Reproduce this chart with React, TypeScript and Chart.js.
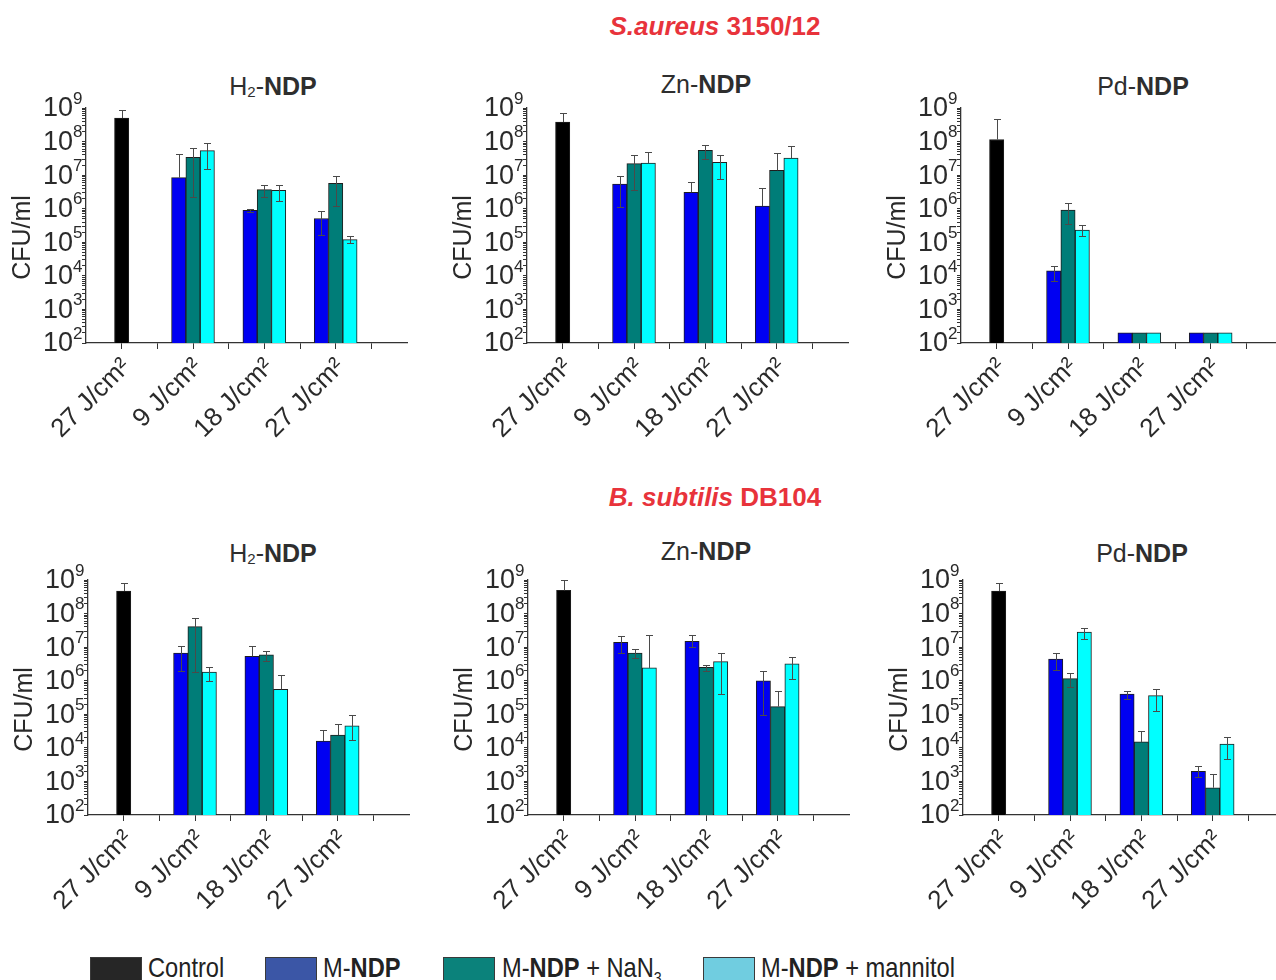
import React, { useEffect, useRef } from 'react';
import { Chart, registerables } from 'chart.js';

Chart.register(...registerables);

const FONT = "'Liberation Sans', Arial, Helvetica, sans-serif";

// ---------- data ----------
const categories = ['27 J/cm²', '9 J/cm²', '18 J/cm²', '27 J/cm²'];
const seriesNames = ['Control', 'M-NDP', 'M-NDP + NaN3', 'M-NDP + mannitol'];
const seriesColors = ['#000000', '#0000f2', '#007d78', '#00ffff'];
const legendColors = ['#262626', '#3b56a6', '#0b827b', '#70cde0'];
const yMin = 1e2;
const yMax = 1e9;

// S. aureus 3150/12 — H2-NDP  (rows: Control, M-NDP, +NaN3, +mannitol)
const SA_H2_VALUES = [
  [5.0e8, null, null, null],
  [null, 8.4e6, 8.9e5, 5.1e5],
  [null, 3.4e7, 3.7e6, 5.7e6],
  [null, 5.4e7, 3.5e6, 1.2e5],
];
const SA_H2_HIGH = [
  [8.5e8, null, null, null],
  [null, 4.4e7, 1.0e6, 8.5e5],
  [null, 6.6e7, 5.2e6, 9.6e6],
  [null, 9.1e7, 5.1e6, 1.5e5],
];
const SA_H2_LOW = [
  [null, null, null, null],
  [null, null, 7.8e5, 1.66e5],
  [null, 2.2e6, 2.3e6, 1.2e6],
  [null, 1.5e7, 1.7e6, 9.6e4],
];

// S. aureus — Zn-NDP
const SA_ZN_VALUES = [
  [3.8e8, null, null, null],
  [null, 5.4e6, 3.1e6, 1.2e6],
  [null, 2.2e7, 5.5e7, 1.4e7],
  [null, 2.3e7, 2.4e7, 3.2e7],
];
const SA_ZN_HIGH = [
  [7.1e8, null, null, null],
  [null, 9.6e6, 6.4e6, 4.1e6],
  [null, 4.1e7, 8.1e7, 4.7e7],
  [null, 4.8e7, 4.0e7, 7.4e7],
];
const SA_ZN_LOW = [
  [null, null, null, null],
  [null, 1.1e6, null, null],
  [null, 3.6e6, 3.1e7, null],
  [null, null, 7.6e6, null],
];

// S. aureus — Pd-NDP
const SA_PD_VALUES = [
  [1.15e8, null, null, null],
  [null, 1.4e4, 2.0e2, 2.0e2],
  [null, 9.1e5, 2.0e2, 2.0e2],
  [null, 2.3e5, 2.0e2, 2.0e2],
];
const SA_PD_HIGH = [
  [4.8e8, null, null, null],
  [null, 2.0e4, null, null],
  [null, 1.45e6, null, null],
  [null, 3.2e5, null, null],
];
const SA_PD_LOW = [
  [null, null, null, null],
  [null, 7.1e3, null, null],
  [null, 3.5e5, null, null],
  [null, 1.5e5, null, null],
];

// B. subtilis DB104 — H2-NDP
const BS_H2_VALUES = [
  [4.7e8, null, null, null],
  [null, 6.7e6, 5.3e6, 1.6e4],
  [null, 4.1e7, 5.9e6, 2.4e4],
  [null, 1.8e6, 5.5e5, 4.5e4],
];
const BS_H2_HIGH = [
  [8.0e8, null, null, null],
  [null, 1.1e7, 1.1e7, 3.5e4],
  [null, 7.6e7, 7.6e6, 5.1e4],
  [null, 2.6e6, 1.45e6, 9.7e4],
];
const BS_H2_LOW = [
  [null, null, null, null],
  [null, 1.95e6, null, null],
  [null, 1.8e6, 4.0e6, null],
  [null, 1.0e6, null, 1.7e4],
];

// B. subtilis — Zn-NDP
const BS_ZN_VALUES = [
  [4.9e8, null, null, null],
  [null, 1.4e7, 1.5e7, 1.0e6],
  [null, 6.6e6, 2.5e6, 1.7e5],
  [null, 2.4e6, 3.7e6, 3.2e6],
];
const BS_ZN_HIGH = [
  [1.0e9, null, null, null],
  [null, 2.1e7, 2.3e7, 1.9e6],
  [null, 8.7e6, 3.0e6, 4.9e5],
  [null, 2.3e7, 6.9e6, 5.2e6],
];
const BS_ZN_LOW = [
  [null, null, null, null],
  [null, 6.9e6, 1.0e7, 9.8e4],
  [null, 4.9e6, 1.9e6, null],
  [null, null, 4.1e5, 1.1e6],
];

// B. subtilis — Pd-NDP
const BS_PD_VALUES = [
  [4.7e8, null, null, null],
  [null, 4.4e6, 4.0e5, 2.0e3],
  [null, 1.15e6, 1.5e4, 6.5e2],
  [null, 2.8e7, 3.6e5, 1.3e4],
];
const BS_PD_HIGH = [
  [8.0e8, null, null, null],
  [null, 6.6e6, 5.1e5, 2.8e3],
  [null, 1.7e6, 3.1e4, 1.7e3],
  [null, 3.7e7, 5.8e5, 2.1e4],
];
const BS_PD_LOW = [
  [null, null, null, null],
  [null, 2.1e6, 2.8e5, 1.4e3],
  [null, 6.3e5, null, null],
  [null, 1.8e7, 1.25e5, 4.8e3],
];

// ---------- layout (pixels) ----------
const Y_AXIS_W = 78;
const PAD_TOP = 20;
const PAD_RIGHT = 6;
const PLOT_W = 321;
const PLOT_H = 235;
const X_AXIS_H = 110;

type Row = (number | null)[];
type PanelProps = { values: Row[]; high: Row[]; low: Row[]; axisX: number; top: number };

function Panel({ values, high, low, axisX, top }: PanelProps) {
  const ref = useRef<HTMLCanvasElement>(null);
  const width = Y_AXIS_W + PLOT_W + PAD_RIGHT;
  const height = PAD_TOP + PLOT_H + X_AXIS_H;

  useEffect(() => {
    const canvas = ref.current;
    if (!canvas) return;

    const decor = {
      id: 'decor',
      afterDatasetsDraw(chart: any) {
        const ctx = chart.ctx;
        const ys = chart.scales.y;
        ctx.save();
        ctx.strokeStyle = '#4a4a4a';
        ctx.lineWidth = 1;
        values.forEach((row, d) => {
          const meta = chart.getDatasetMeta(d);
          row.forEach((v, i) => {
            const hi = high[d][i];
            if (v == null || hi == null) return;
            const bar = meta.data[i];
            const x = Math.round(bar.x) + 0.5;
            const lo = low[d][i];
            const yHi = Math.round(ys.getPixelForValue(hi)) + 0.5;
            const yLo = lo != null ? Math.round(ys.getPixelForValue(lo)) + 0.5 : bar.y;
            ctx.beginPath();
            ctx.moveTo(x, yLo);
            ctx.lineTo(x, yHi);
            ctx.moveTo(x - 3.5, yHi);
            ctx.lineTo(x + 3.5, yHi);
            if (lo != null) {
              ctx.moveTo(x - 3.5, yLo);
              ctx.lineTo(x + 3.5, yLo);
            }
            ctx.stroke();
          });
        });
        ctx.restore();
      },
      afterDraw(chart: any) {
        const ctx = chart.ctx;
        const ys = chart.scales.y;
        const ax = chart.chartArea.left;
        ctx.save();
        ctx.fillStyle = '#2a2a2a';
        ys.ticks.forEach((t: any) => {
          const e = Math.log10(t.value);
          if (Math.abs(e - Math.round(e)) > 1e-9) return;
          const py = ys.getPixelForValue(t.value);
          ctx.font = `27px ${FONT}`;
          ctx.textAlign = 'right';
          ctx.textBaseline = 'middle';
          ctx.fillText('10', ax - 13, py + 1);
          ctx.font = `17px ${FONT}`;
          ctx.textAlign = 'left';
          ctx.fillText(String(Math.round(e)), ax - 13, py - 9);
        });
        ctx.translate(ax - 63, (chart.chartArea.top + chart.chartArea.bottom) / 2 + 12);
        ctx.rotate(-Math.PI / 2);
        ctx.font = `25px ${FONT}`;
        ctx.textAlign = 'center';
        ctx.textBaseline = 'middle';
        ctx.fillText('CFU/ml', 0, 0);
        ctx.restore();
      },
    };

    const chart = new Chart(canvas, {
      type: 'bar',
      data: {
        datasets: values.map((row, d) => ({
          label: seriesNames[d],
          data: row.map((v, i) => ({ x: i, y: v })),
          backgroundColor: seriesColors[d],
          borderColor: '#1e1e1e',
          borderWidth: 1,
          barThickness: 14.3,
          skipNull: true,
          grouped: true,
        })),
      } as any,
      options: {
        animation: false,
        responsive: false,
        maintainAspectRatio: false,
        layout: { padding: { top: PAD_TOP, right: PAD_RIGHT, left: 0, bottom: 0 } },
        plugins: { legend: { display: false }, tooltip: { enabled: false }, title: { display: false } },
        scales: {
          x: {
            type: 'linear',
            offset: false,
            min: -0.5,
            max: categories.length,
            afterBuildTicks: (scale: any) => {
              scale.ticks = categories.flatMap((_, i) => [
                { value: i, major: true },
                { value: i + 0.5, major: false },
              ]);
            },
            afterFit: (scale: any) => {
              scale.height = X_AXIS_H;
              scale.paddingLeft = 0;
              scale.paddingRight = 0;
            },
            ticks: {
              autoSkip: false,
              minRotation: 45,
              maxRotation: 45,
              padding: 3,
              labelOffset: 5,
              color: '#2a2a2a',
              font: { family: FONT, size: 26 },
              callback: (v: any) => (Number.isInteger(v) && v >= 0 && v < categories.length ? categories[v] : ''),
            },
            grid: { offset: false, drawOnChartArea: false, drawTicks: true, tickLength: 6, color: '#333' },
            border: { display: true, color: '#333', width: 1.3 },
          },
          y: {
            type: 'logarithmic',
            min: yMin,
            max: yMax,
            afterBuildTicks: (scale: any) => {
              const ticks: any[] = [];
              const e0 = Math.round(Math.log10(yMin));
              const e1 = Math.round(Math.log10(yMax));
              for (let e = e0; e < e1; e++) {
                for (let s = 1; s <= 9; s++) ticks.push({ value: s * Math.pow(10, e), major: s === 1 });
              }
              ticks.push({ value: yMax, major: true });
              scale.ticks = ticks;
            },
            afterFit: (scale: any) => {
              scale.width = Y_AXIS_W;
              scale.paddingTop = 0;
              scale.paddingBottom = 0;
            },
            ticks: { display: false },
            grid: { drawOnChartArea: false, drawTicks: true, tickLength: 4, color: '#333' },
            border: { display: true, color: '#333', width: 1.3 },
          },
        },
      } as any,
      plugins: [decor],
    });
    return () => chart.destroy();
  }, []);

  return (
    <canvas
      ref={ref}
      width={width}
      height={height}
      style={{ position: 'absolute', left: axisX - Y_AXIS_W, top: top - PAD_TOP, width, height }}
    />
  );
}

const panels = [
  { values: SA_H2_VALUES, high: SA_H2_HIGH, low: SA_H2_LOW, axisX: 86, top: 108 },
  { values: SA_ZN_VALUES, high: SA_ZN_HIGH, low: SA_ZN_LOW, axisX: 527, top: 108 },
  { values: SA_PD_VALUES, high: SA_PD_HIGH, low: SA_PD_LOW, axisX: 961, top: 108 },
  { values: BS_H2_VALUES, high: BS_H2_HIGH, low: BS_H2_LOW, axisX: 88, top: 580 },
  { values: BS_ZN_VALUES, high: BS_ZN_HIGH, low: BS_ZN_LOW, axisX: 528, top: 580 },
  { values: BS_PD_VALUES, high: BS_PD_HIGH, low: BS_PD_LOW, axisX: 963, top: 580 },
];

const titleStyle = (cx: number, cy: number): React.CSSProperties => ({
  position: 'absolute',
  left: cx - 120,
  width: 240,
  top: cy - 15,
  lineHeight: '30px',
  textAlign: 'center',
  fontFamily: FONT,
  fontSize: 25,
  color: '#2e2e2e',
  whiteSpace: 'nowrap',
});

const sectionStyle = (cy: number): React.CSSProperties => ({
  position: 'absolute',
  left: 515,
  width: 400,
  top: cy - 16,
  lineHeight: '32px',
  textAlign: 'center',
  fontFamily: FONT,
  fontSize: 26,
  fontWeight: 'bold',
  color: '#e8333b',
  whiteSpace: 'nowrap',
});

const subStyle: React.CSSProperties = { fontSize: '60%', verticalAlign: '-0.15em' };

const legendItems = [
  { swatch: 90, text: 148, content: <>Control</> },
  { swatch: 265, text: 323, content: <>M-<b>NDP</b></> },
  { swatch: 443, text: 502, content: <>M-<b>NDP</b> + NaN<sub style={{ fontSize: '60%', verticalAlign: '-0.4em' }}>3</sub></> },
  { swatch: 703, text: 761, content: <>M-<b>NDP</b> + mannitol</> },
];

export default function App() {
  return (
    <div
      style={{
        position: 'fixed',
        left: 0,
        top: 0,
        width: 1276,
        height: 980,
        overflow: 'hidden',
        background: '#ffffff',
      }}
    >
      <div style={sectionStyle(26)}>
        <i>S.aureus</i> 3150/12
      </div>
      <div style={sectionStyle(497)}>
        <i>B. subtilis</i> DB104
      </div>

      <div style={titleStyle(273, 86)}>
        H<sub style={subStyle}>2</sub>-<b>NDP</b>
      </div>
      <div style={titleStyle(706, 84)}>
        Zn-<b>NDP</b>
      </div>
      <div style={titleStyle(1143, 86)}>
        Pd-<b>NDP</b>
      </div>
      <div style={titleStyle(273, 553)}>
        H<sub style={subStyle}>2</sub>-<b>NDP</b>
      </div>
      <div style={titleStyle(706, 551)}>
        Zn-<b>NDP</b>
      </div>
      <div style={titleStyle(1142, 553)}>
        Pd-<b>NDP</b>
      </div>

      {panels.map((p, i) => (
        <Panel key={i} {...p} />
      ))}

      {legendItems.map((it, i) => (
        <React.Fragment key={i}>
          <div
            style={{
              position: 'absolute',
              left: it.swatch,
              top: 957,
              width: 52,
              height: 26,
              background: legendColors[i],
              boxSizing: 'border-box',
              border: '1px solid #3a3a3a',
            }}
          />
          <div
            style={{
              position: 'absolute',
              left: it.text,
              top: 954,
              fontFamily: FONT,
              fontSize: 28,
              lineHeight: '28px',
              color: '#222',
              whiteSpace: 'nowrap',
              transform: 'scaleX(0.845)',
              transformOrigin: 'left center',
            }}
          >
            {it.content}
          </div>
        </React.Fragment>
      ))}
    </div>
  );
}
